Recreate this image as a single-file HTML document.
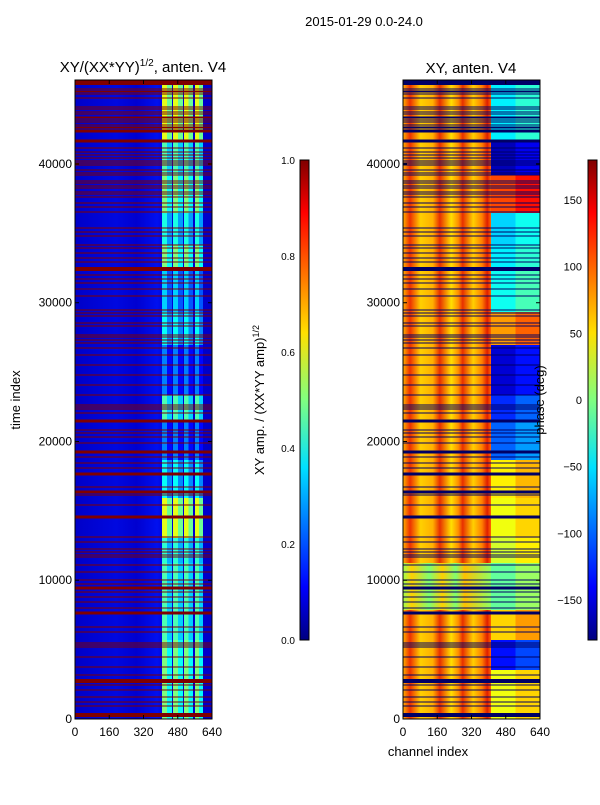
<!DOCTYPE html>
<html><head><meta charset="utf-8">
<style>
body{margin:0;background:#fff;width:600px;height:800px;overflow:hidden;font-family:"Liberation Sans",sans-serif;}
svg text{font-family:"Liberation Sans",sans-serif;}
</style></head>
<body>
<svg id="fig" width="600" height="800" xmlns="http://www.w3.org/2000/svg">
<defs>
<linearGradient id="jetV" x1="0" y1="1" x2="0" y2="0">
<stop offset="0" stop-color="#000080"/><stop offset="0.11" stop-color="#0000ff"/><stop offset="0.36" stop-color="#00e0ff"/><stop offset="0.5" stop-color="#80ff80"/><stop offset="0.64" stop-color="#ffe000"/><stop offset="0.89" stop-color="#ff0000"/><stop offset="1" stop-color="#800000"/>
</linearGradient>
<linearGradient id="stripeN" x1="0" y1="0" x2="1" y2="0">
<stop offset="0" stop-color="#ffb000"/><stop offset="0.08" stop-color="#ee3000"/><stop offset="0.2" stop-color="#ffd000"/><stop offset="0.34" stop-color="#ffb000"/><stop offset="0.42" stop-color="#e83000"/><stop offset="0.55" stop-color="#ffe000"/><stop offset="0.63" stop-color="#ff9000"/><stop offset="0.68" stop-color="#e83000"/><stop offset="0.8" stop-color="#ffd000"/><stop offset="0.9" stop-color="#ff8000"/><stop offset="0.96" stop-color="#e02000"/><stop offset="1" stop-color="#ff6000"/>
</linearGradient>
<linearGradient id="stripeG" x1="0" y1="0" x2="1" y2="0">
<stop offset="0" stop-color="#a0ff50"/><stop offset="0.1" stop-color="#ffd000"/><stop offset="0.3" stop-color="#80ff70"/><stop offset="0.45" stop-color="#ffd000"/><stop offset="0.6" stop-color="#80ff70"/><stop offset="0.7" stop-color="#ffc000"/><stop offset="1" stop-color="#90ff60"/>
</linearGradient>
<linearGradient id="baseL" x1="0" y1="0" x2="1" y2="0">
<stop offset="0" stop-color="#0000c8"/><stop offset="0.3" stop-color="#0008e0"/><stop offset="0.45" stop-color="#0000d0"/><stop offset="0.6" stop-color="#0010f0"/><stop offset="0.66" stop-color="#0000d8"/><stop offset="1" stop-color="#0000c8"/>
</linearGradient>
<clipPath id="clipL"><rect x="75" y="80" width="137" height="639"/></clipPath>
<clipPath id="clipR"><rect x="403" y="80" width="137" height="639"/></clipPath>
</defs>
<g id="left" clip-path="url(#clipL)" shape-rendering="crispEdges"></g>
<g id="right" clip-path="url(#clipR)" shape-rendering="crispEdges"></g>
<g id="axes"></g>
<text x="364" y="26" font-size="13" text-anchor="middle">2015-01-29 0.0-24.0</text>
<text x="143" y="72" font-size="15" text-anchor="middle">XY/(XX*YY)<tspan font-size="10" dy="-6">1/2</tspan><tspan dy="6">, anten. V4</tspan></text>
<text x="471" y="73" font-size="15" text-anchor="middle">XY, anten. V4</text>
<text transform="translate(20,400) rotate(-90)" font-size="13" text-anchor="middle">time index</text>
<text x="428" y="756" font-size="13" text-anchor="middle">channel index</text>
<text transform="translate(264,400) rotate(-90)" font-size="13" text-anchor="middle">XY amp. / (XX*YY amp)<tspan font-size="9" dy="-5">1/2</tspan></text>
<text transform="translate(544,400) rotate(-90)" font-size="13" text-anchor="middle">phase (deg)</text>
<rect x="300" y="160" width="9" height="480" fill="url(#jetV)" stroke="#000" stroke-width="1"/>
<rect x="588" y="160" width="9" height="480" fill="url(#jetV)" stroke="#000" stroke-width="1"/>
</svg>
<script>
const ns="http://www.w3.org/2000/svg";
const chTicks=[0,160,320,480,640];
const timeTicks=[0,10000,20000,30000,40000];
const ampTicks=[0.0,0.2,0.4,0.6,0.8,1.0];
const phaseTicks=[-150,-100,-50,0,50,100,150];
const segTop=[46053,41729,39206,36468,34162,32359,29333,26955,23351,21549,18666,15927,13045,11243,7856,5693,3531];
const segBottom=[41729,39206,36468,34162,32359,29333,26955,23351,21549,18666,15927,13045,11243,7856,5693,3531,0];
const leftLevel=[0.6,0.45,0.5,0.4,0.5,0.33,0.38,0.25,0.45,0.25,0.38,0.6,0.42,0.45,0.45,0.5,0.5];
const rightPhase=[-50,-160,110,-60,-50,-40,80,-150,-120,-100,50,40,30,-10,60,-130,40];
const rightBg=[1,1,1,1,1,1,1,1,1,1,1,1,1,0,1,1,1];
const flagTimes=[45908,45403,45259,45187,45043,44755,44106,43962,43746,43602,43386,43314,43170,43026,42809,42665,42593,42377,41656,41152,40864,40648,40431,40215,40071,39927,39567,39351,39206,38774,38630,38414,38269,37981,37837,37621,37189,36900,36540,35387,35099,34810,34162,33946,33585,33225,32937,32432,31999,31711,31423,30991,30486,29477,29261,29045,28540,28324,27676,27532,27316,27099,26739,26235,25514,24793,24073,23352,22630,22486,22342,22053,21477,20828,20612,20324,19891,19243,18882,18450,18090,17657,16720,16360,16144,15423,14558,13117,12756,12252,12036,11820,11675,11099,10595,10018,9730,9441,9153,8793,8432,8000,7639,6630,6270,5477,5333,5189,4468,3748,3171,2739,2450,2090,1586,1225,937,288];
const flagDur=[400,60,60,60,60,60,60,60,60,60,60,60,60,60,60,60,60,250,250,60,60,60,60,60,60,60,60,60,60,60,60,60,60,60,60,60,60,60,60,60,60,60,60,60,60,60,60,300,60,60,60,60,60,60,60,60,60,60,60,60,60,60,60,60,60,60,60,60,60,60,60,60,250,60,60,60,60,250,60,60,60,250,60,250,60,60,250,60,60,60,60,60,60,60,60,60,60,250,60,60,60,60,250,60,60,60,60,60,60,60,60,300,60,60,60,60,60,300];
const subCols=[[406,453],[458,505],[509,551],[561,598]];
const TMAX=46053;
function yS(t){return 719-t/TMAX*639;}
function xL(c){return 75+c/640*137;}
function xR(c){return 403+c/640*137;}
function jet(v){v=Math.max(0,Math.min(1,v));
 const r=Math.min(4*v-1.5,-4*v+4.5),g=Math.min(4*v-0.5,-4*v+3.5),b=Math.min(4*v+0.5,-4*v+2.5);
 const c=x=>Math.round(255*Math.max(0,Math.min(1,x)));return `rgb(${c(r)},${c(g)},${c(b)})`;}
function rect(parent,x,y,w,h,fill){const r=document.createElementNS(ns,'rect');
 r.setAttribute('x',x);r.setAttribute('y',y);r.setAttribute('width',w);r.setAttribute('height',h);r.setAttribute('fill',fill);parent.appendChild(r);return r;}
const L=document.getElementById('left'),R=document.getElementById('right');
for(let i=0;i<segTop.length;i++){
 const y0=yS(segTop[i]),y1=yS(segBottom[i]),h=y1-y0;
 let r=rect(L,xL(0),y0,xL(640)-xL(0),h,'url(#baseL)');
 
 
 subCols.forEach(sc=>{
  const m=(sc[0]+sc[1])/2;
  let c=rect(L,xL(sc[0]),y0,xL(m)-xL(sc[0]),h,jet(leftLevel[i]));
  
  
  c=rect(L,xL(m),y0,xL(sc[1])-xL(m),h,jet(leftLevel[i]-0.12));
  
  
 });
 let b=rect(R,xR(0),y0,xR(410)-xR(0),h,rightBg[i]?'url(#stripeN)':'url(#stripeG)');
 
 
 b=rect(R,xR(410),y0,xR(525)-xR(410),h,jet((rightPhase[i]+180)/360));
 
 
 b=rect(R,xR(525),y0,xR(640)-xR(525),h,jet((rightPhase[i]+200)/360));
 
 
}
for(let i=0;i<flagTimes.length;i++){
 const h=Math.max(1,flagDur[i]/TMAX*639),y0=yS(flagTimes[i])-h/2;
 let f=rect(L,xL(0),y0,xL(640)-xL(0),h,'#800000');
 
 
 f=rect(R,xR(0),y0,xR(640)-xR(0),h,'#000066');
 
 
}
const A=document.getElementById('axes');
function line(x1,y1,x2,y2){const l=document.createElementNS(ns,'line');
 l.setAttribute('x1',x1);l.setAttribute('y1',y1);l.setAttribute('x2',x2);l.setAttribute('y2',y2);l.setAttribute('stroke','#000');A.appendChild(l);return l;}
function txt(x,y,s,anchor){const t=document.createElementNS(ns,'text');
 t.setAttribute('x',x);t.setAttribute('y',y);t.setAttribute('font-size','12');t.setAttribute('text-anchor',anchor);t.textContent=s;A.appendChild(t);return t;}
[[75,xL],[403,xR]].forEach(([x0,xf],k)=>{
 const fr=rect(A,x0,80,137,639,'none');fr.setAttribute('stroke','#000');
 
 
 chTicks.forEach(c=>{line(xf(c),719,xf(c),715);line(xf(c),80,xf(c),84);
  const t=txt(xf(c),736,String(c),'middle');
  
  });
 timeTicks.forEach(v=>{line(x0,yS(v),x0+4,yS(v));line(x0+137,yS(v),x0+133,yS(v));
  const t=txt(x0-3,yS(v)+4,String(v),'end');
  
  });
});
ampTicks.forEach(v=>{const y=640-v*480;line(305,y,309,y);
 const t=txt(295,y+4,v.toFixed(1),'end');t.setAttribute('font-size','10');
 
 });
phaseTicks.forEach(v=>{const y=400-v/360*480;line(593,y,597,y);
 const t=txt(582,y+4,v<0?'\u2212'+(-v):String(v),'end');t.setAttribute('font-size','11');
 
 });
</script>
</body></html>
